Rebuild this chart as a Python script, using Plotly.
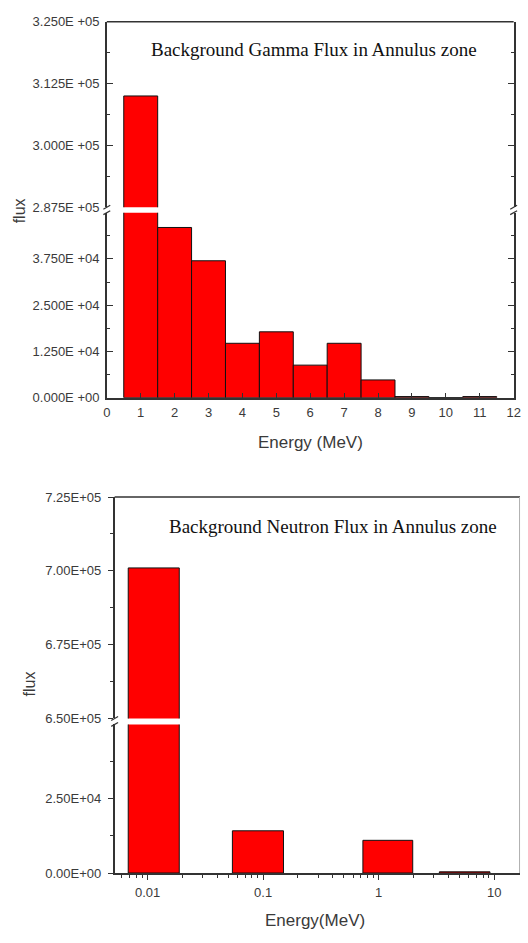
import plotly.graph_objects as go

W, H = 528, 943

# ---------------- data ----------------
gamma_energy = [1, 2, 3, 4, 5, 6, 7, 8, 9, 10, 11]
gamma_flux = [3.10e5, 4.60e4, 3.70e4, 1.47e4, 1.78e4, 8.8e3, 1.47e4, 4.8e3, 300, 0, 300]

# neutron bins: lower / upper energy edges (MeV) and flux
neutron_lo = [0.0068, 0.0542, 0.73, 3.35]
neutron_hi = [0.0188, 0.150, 1.97, 9.18]
neutron_flux = [7.01e5, 1.42e4, 1.10e4, 400]

gamma_x_ticks = list(range(0, 13))
gamma_low_ticks = [0, 12500, 25000, 37500]
gamma_low_labels = ["0.000E +00", "1.250E +04", "2.500E +04", "3.750E +04"]
gamma_high_ticks = [287500, 300000, 312500, 325000]
gamma_high_labels = ["2.875E +05", "3.000E +05", "3.125E +05", "3.250E +05"]

neutron_x_ticks = [0.01, 0.1, 1, 10]
neutron_x_labels = ["0.01", "0.1", "1", "10"]
neutron_low_ticks = [0, 25000]
neutron_low_labels = ["0.00E+00", "2.50E+04"]
neutron_high_ticks = [650000, 675000, 700000, 725000]
neutron_high_labels = ["6.50E+05", "6.75E+05", "7.00E+05", "7.25E+05"]

neutron_mid = [(a + b) / 2 for a, b in zip(neutron_lo, neutron_hi)]
neutron_w = [b - a for a, b in zip(neutron_lo, neutron_hi)]

# ---------------- layout helpers ----------------
def fx(p):
    return p / W

def fy(p):
    return 1 - p / H

# top chart (pixels)
T_L, T_R = 105, 520.5
T_LOW = (397, 209)
T_HIGH = (203.5, 15)
# bottom chart (pixels)
B_L, B_R = 113, 527
B_LOW = (880, 729)
B_HIGH = (723, 498)

RED = "#FF0000"
AX = "#333333"
TXT = "#3a3a3a"
SANS = "Liberation Sans, Arial, sans-serif"
SERIF = "Liberation Serif, Times New Roman, serif"

bar_style = dict(marker=dict(color=RED, line=dict(color="#111111", width=1)),
                 showlegend=False, hoverinfo="x+y")

fig = go.Figure()
fig.add_trace(go.Bar(x=gamma_energy, y=gamma_flux, width=1, xaxis="x", yaxis="y", **bar_style))
fig.add_trace(go.Bar(x=gamma_energy, y=gamma_flux, width=1, xaxis="x", yaxis="y2", **bar_style))
fig.add_trace(go.Bar(x=neutron_mid, y=neutron_flux, width=neutron_w, xaxis="x2", yaxis="y3", **bar_style))
fig.add_trace(go.Bar(x=neutron_mid, y=neutron_flux, width=neutron_w, xaxis="x2", yaxis="y4", **bar_style))

tickfont = dict(family=SANS, size=13, color=TXT)

def mid(vals):
    return [(a + b) / 2 for a, b in zip(vals[:-1], vals[1:])]

common_y_top = dict(showline=True, linecolor=AX, linewidth=1.5, ticks="inside", ticklen=6,
                    tickcolor=AX, tickwidth=1.2, mirror="ticks", showgrid=False, zeroline=False,
                    tickfont=tickfont, ticklabelstandoff=3)

minor_log = [m * d for d in [0.001, 0.01, 0.1, 1] for m in range(2, 10)]

fig.update_layout(
    width=W, height=H,
    margin=dict(l=0, r=0, t=0, b=0),
    paper_bgcolor="white", plot_bgcolor="white",
    barmode="overlay",
    xaxis=dict(domain=[fx(T_L), fx(T_R)], anchor="y", range=[0, 12],
               tickvals=gamma_x_ticks, ticks="inside", ticklen=5, tickcolor=AX, tickwidth=1.2,
               showline=True, linecolor=AX, linewidth=1.5, showgrid=False, zeroline=False,
               tickfont=tickfont, ticklabelstandoff=2),
    yaxis=dict(domain=[fy(T_LOW[0]), fy(T_LOW[1])], anchor="x", range=[0, 50000],
               tickvals=gamma_low_ticks, ticktext=gamma_low_labels,
               minor=dict(tickvals=mid(gamma_low_ticks + [50000]), ticks="inside", ticklen=3, tickcolor=AX),
               **common_y_top),
    yaxis2=dict(domain=[fy(T_HIGH[0]), fy(T_HIGH[1])], anchor="x", range=[287500, 325000],
                tickvals=gamma_high_ticks, ticktext=gamma_high_labels,
                minor=dict(tickvals=mid(gamma_high_ticks), ticks="inside", ticklen=3, tickcolor=AX),
                **common_y_top),
    xaxis2=dict(type="log", domain=[fx(B_L), fx(B_R)], anchor="y3", range=[-2.285, 1.223],
                tickvals=neutron_x_ticks, ticktext=neutron_x_labels,
                ticks="outside", ticklen=5, tickcolor=AX, tickwidth=1.2,
                minor=dict(tickvals=minor_log, ticks="outside", ticklen=3, tickcolor=AX),
                showline=True, linecolor=AX, linewidth=1.5, showgrid=False, zeroline=False,
                tickfont=tickfont, ticklabelstandoff=2),
    yaxis3=dict(domain=[fy(B_LOW[0]), fy(B_LOW[1])], anchor="x2", range=[0, 50000],
                tickvals=neutron_low_ticks, ticktext=neutron_low_labels,
                minor=dict(tickvals=[12500, 37500], ticks="outside", ticklen=3, tickcolor=AX),
                showline=True, linecolor=AX, linewidth=1.5, ticks="outside", ticklen=5,
                tickcolor=AX, tickwidth=1.2, showgrid=False, zeroline=False,
                tickfont=tickfont, ticklabelstandoff=4),
    yaxis4=dict(domain=[fy(B_HIGH[0]), fy(B_HIGH[1])], anchor="x2", range=[650000, 725000],
                tickvals=neutron_high_ticks, ticktext=neutron_high_labels,
                minor=dict(tickvals=mid(neutron_high_ticks), ticks="outside", ticklen=3, tickcolor=AX),
                showline=True, linecolor=AX, linewidth=1.5, ticks="outside", ticklen=5,
                tickcolor=AX, tickwidth=1.2, showgrid=False, zeroline=False,
                tickfont=tickfont, ticklabelstandoff=4),
)

shapes = []
shapes.append(dict(type="line", xref="paper", yref="paper",
                   x0=fx(T_L), x1=fx(T_R), y0=fy(T_HIGH[1]), y1=fy(T_HIGH[1]),
                   line=dict(color=AX, width=1.5)))
shapes.append(dict(type="line", xref="paper", yref="paper",
                   x0=fx(B_L), x1=fx(B_R), y0=fy(B_HIGH[1]), y1=fy(B_HIGH[1]),
                   line=dict(color=AX, width=1.5)))
shapes.append(dict(type="line", xref="paper", yref="paper",
                   x0=fx(B_R - 0.5), x1=fx(B_R - 0.5), y0=fy(B_LOW[0]), y1=fy(B_HIGH[1]),
                   line=dict(color="#b0b0b0", width=1)))

def brk(xc, y_up, y_low):
    for yy in (y_up, y_low):
        shapes.append(dict(type="line", xref="paper", yref="paper",
                           x0=fx(xc - 3.5), x1=fx(xc + 3.5), y0=fy(yy + 2), y1=fy(yy - 2),
                           line=dict(color=AX, width=1.2)))

brk(T_L, T_HIGH[0], T_LOW[1])
brk(T_R, T_HIGH[0], T_LOW[1])
brk(B_L, B_HIGH[0], B_LOW[1])

fig.update_layout(shapes=shapes)

ann = []
ann.append(dict(text="Background Gamma Flux in Annulus zone", xref="paper", yref="paper",
                x=fx(316.5), y=fy(43), xanchor="center", yanchor="middle", showarrow=False,
                font=dict(family=SERIF, size=19, color="#111111")))
ann.append(dict(text="Background Neutron Flux in Annulus zone", xref="paper", yref="paper",
                x=fx(336.5), y=fy(528), xanchor="center", yanchor="middle", showarrow=False,
                font=dict(family=SERIF, size=19, color="#111111")))
ann.append(dict(text="Energy (MeV)", xref="paper", yref="paper",
                x=fx(313), y=fy(443), xanchor="center", yanchor="middle", showarrow=False,
                font=dict(family=SANS, size=17, color=TXT)))
ann.append(dict(text="Energy(MeV)", xref="paper", yref="paper",
                x=fx(318), y=fy(928), xanchor="center", yanchor="middle", showarrow=False,
                font=dict(family=SANS, size=17, color=TXT)))
ann.append(dict(text="flux", xref="paper", yref="paper", textangle=-90,
                x=fx(16), y=fy(207), xanchor="center", yanchor="middle", showarrow=False,
                font=dict(family=SANS, size=16, color=TXT)))
ann.append(dict(text="flux", xref="paper", yref="paper", textangle=-90,
                x=fx(26), y=fy(688), xanchor="center", yanchor="middle", showarrow=False,
                font=dict(family=SANS, size=16, color=TXT)))
fig.update_layout(annotations=ann)

fig.write_html("out.html", config={"displayModeBar": False},
               post_script="document.body.style.margin='0';document.body.style.overflow='hidden';")
